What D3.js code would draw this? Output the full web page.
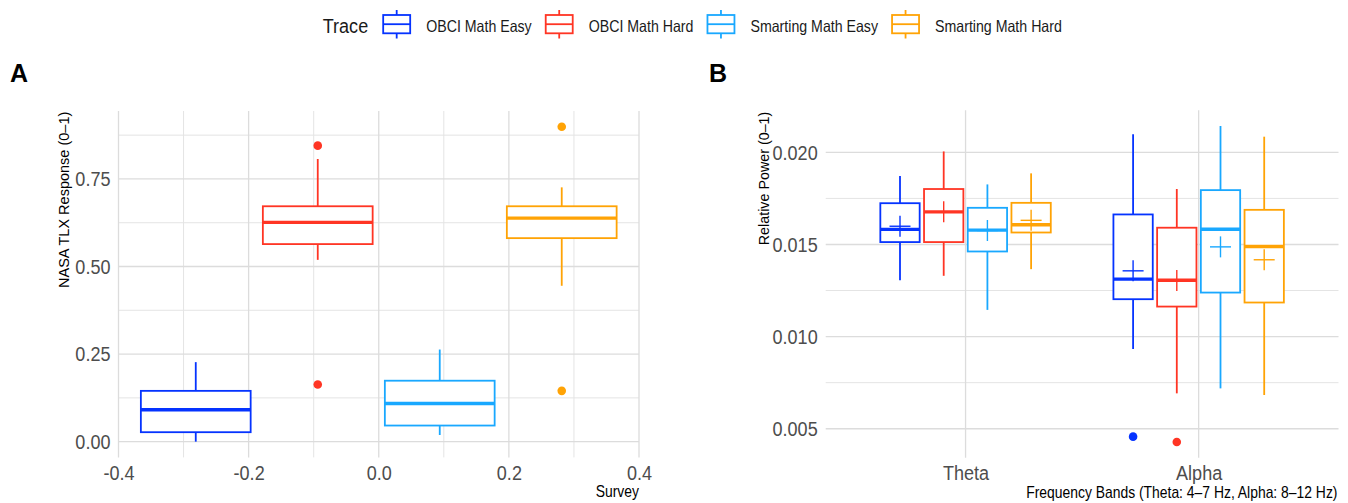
<!DOCTYPE html>
<html>
<head>
<meta charset="utf-8">
<script src="https://cdn.jsdelivr.net/npm/d3@7"></script>
<style>
  html, body { margin: 0; padding: 0; background: #ffffff; }
  svg { display: block; }
</style>
</head>
<body>
<svg id="chart" width="1348" height="503"></svg>
<script>
// ---- Data ----------------------------------------------------------------
const traces = ["OBCI Math Easy", "OBCI Math Hard", "Smarting Math Easy", "Smarting Math Hard"];
const traceColors = ["#0533FF", "#FF3524", "#19A8FF", "#FFA305"];

// Panel A: NASA TLX survey response, box statistics per trace
const surveyLow    = [0.000, 0.519, 0.019, 0.445];
const surveyQ1     = [0.027, 0.564, 0.046, 0.581];
const surveyMedian = [0.091, 0.626, 0.109, 0.638];
const surveyQ3     = [0.145, 0.672, 0.174, 0.672];
const surveyHigh   = [0.227, 0.807, 0.263, 0.726];
const surveyOutliers = [[], [0.845, 0.163], [], [0.899, 0.145]];
const surveyXTicks = [-0.4, -0.2, 0.0, 0.2, 0.4];
const surveyYTicks = [0.00, 0.25, 0.50, 0.75];

// Panel B: relative band power, [Theta, Alpha] per trace
const bands = ["Theta", "Alpha"];
const powerLow    = [[0.01306, 0.00933], [0.01330, 0.00692], [0.01145, 0.00719], [0.01366, 0.00683]];
const powerQ1     = [[0.01513, 0.01203], [0.01513, 0.01163], [0.01462, 0.01239], [0.01565, 0.01185]];
const powerMedian = [[0.01582, 0.01312], [0.01677, 0.01306], [0.01578, 0.01583], [0.01607, 0.01489]];
const powerQ3     = [[0.01724, 0.01663], [0.01801, 0.01591], [0.01699, 0.01795], [0.01726, 0.01688]];
const powerHigh   = [[0.01871, 0.02098], [0.02005, 0.01801], [0.01826, 0.02143], [0.01886, 0.02085]];
const powerMean   = [[0.01599, 0.01357], [0.01678, 0.01304], [0.01576, 0.01487], [0.01631, 0.01417]];
const powerOutliers = [[[], [0.00457]], [[], [0.00428]], [[], []], [[], []]];
const powerYTicks = [0.005, 0.010, 0.015, 0.020];

// ---- Shared styling --------------------------------------------------------
const FONT = "'Liberation Sans', Arial, Helvetica, sans-serif";
const SX = 0.88;            // horizontal glyph squeeze used for all upright text
const TICK_SX = 0.86;
const LEGEND_SX = 0.87;
const TICK_COLOR = "#4d4d4d";
const GRID_MAJOR = "#dcdcdc";
const GRID_MINOR = "#e4e4e4";
const LINE_W = 1.8;

const svg = d3.select("#chart");
svg.append("rect").attr("width", 1348).attr("height", 503).attr("fill", "#ffffff");

function addText(parent, x, y, str, o = {}) {
  return parent.append("text")
    .attr("transform", `translate(${x},${y}) scale(${o.sx ?? SX},1)`)
    .attr("text-anchor", o.anchor || "start")
    .attr("font-family", FONT)
    .attr("font-size", o.size || 16)
    .attr("font-weight", o.weight || "normal")
    .attr("fill", o.fill || "#000000")
    .text(str);
}

function expand(lo, hi, f = 0.05) {
  const pad = (hi - lo) * f;
  return [lo - pad, hi + pad];
}

function styleAxis(g, size) {
  g.select(".domain").remove();
  g.selectAll(".tick line").remove();
  g.selectAll(".tick text")
    .attr("font-family", FONT)
    .attr("font-size", size)
    .attr("fill", TICK_COLOR)
    .attr("transform", `scale(${TICK_SX},1)`);
}

// Draws one box-and-whisker glyph centred at cx with the given half width
function drawBox(g, cx, half, y, st, color) {
  g.append("line").attr("x1", cx).attr("x2", cx)
    .attr("y1", y(st.q3)).attr("y2", y(st.high))
    .attr("stroke", color).attr("stroke-width", LINE_W);
  g.append("line").attr("x1", cx).attr("x2", cx)
    .attr("y1", y(st.q1)).attr("y2", y(st.low))
    .attr("stroke", color).attr("stroke-width", LINE_W);
  g.append("rect")
    .attr("x", cx - half).attr("width", 2 * half)
    .attr("y", y(st.q3)).attr("height", y(st.q1) - y(st.q3))
    .attr("fill", "#ffffff").attr("stroke", color).attr("stroke-width", LINE_W);
  g.append("line").attr("x1", cx - half).attr("x2", cx + half)
    .attr("y1", y(st.median)).attr("y2", y(st.median))
    .attr("stroke", color).attr("stroke-width", 3.4);
  st.outliers.forEach(v => {
    g.append("circle").attr("cx", cx).attr("cy", y(v)).attr("r", 4.3).attr("fill", color);
  });
}

// ---- Panel A --------------------------------------------------------------
const A = { left: 118.5, right: 639, top: 111, bottom: 457.4 };
const gA = svg.append("g");

const allSurvey = surveyLow.concat(surveyHigh, surveyOutliers.flat());
const yA = d3.scaleLinear()
  .domain(expand(d3.min(allSurvey), d3.max(allSurvey)))
  .range([A.bottom, A.top]);
const xA = d3.scaleLinear().domain([-0.4, 0.4]).range([A.left, A.right]);
const dodgeA = d3.scaleBand().domain(traces).range([-0.375, 0.375])
  .paddingInner(0.1).paddingOuter(0.05);

// grid
const yMinorA = surveyYTicks.map(t => t + 0.125);
const xMinorA = surveyXTicks.slice(0, -1).map(t => t + 0.1);
gA.selectAll(".gyminor").data(yMinorA).join("line")
  .attr("x1", A.left).attr("x2", A.right).attr("y1", d => yA(d)).attr("y2", d => yA(d))
  .attr("stroke", GRID_MINOR).attr("stroke-width", 1);
gA.selectAll(".gxminor").data(xMinorA).join("line")
  .attr("y1", A.top).attr("y2", A.bottom).attr("x1", d => xA(d)).attr("x2", d => xA(d))
  .attr("stroke", GRID_MINOR).attr("stroke-width", 1);
gA.selectAll(".gymajor").data(surveyYTicks).join("line")
  .attr("x1", A.left).attr("x2", A.right).attr("y1", d => yA(d)).attr("y2", d => yA(d))
  .attr("stroke", GRID_MAJOR).attr("stroke-width", 1.3);
gA.selectAll(".gxmajor").data(surveyXTicks).join("line")
  .attr("y1", A.top).attr("y2", A.bottom).attr("x1", d => xA(d)).attr("x2", d => xA(d))
  .attr("stroke", GRID_MAJOR).attr("stroke-width", 1.3);

// axes
const axYA = gA.append("g").attr("transform", `translate(${A.left},0)`)
  .call(d3.axisLeft(yA).tickValues(surveyYTicks).tickFormat(d3.format(".2f")).tickSize(0).tickPadding(9.3));
styleAxis(axYA, 21);

const axXA = gA.append("g").attr("transform", `translate(0,${A.bottom})`)
  .call(d3.axisBottom(xA).tickValues(surveyXTicks)
    .tickFormat(d => d3.format(".1f")(d).replace("\u2212", "-")).tickSize(0).tickPadding(8));
styleAxis(axXA, 21);

// boxes
traces.forEach((t, i) => {
  const cx = xA(dodgeA(t) + dodgeA.bandwidth() / 2);
  const half = (xA(dodgeA.bandwidth()) - xA(0)) / 2;
  drawBox(gA, cx, half, yA, {
    low: surveyLow[i], q1: surveyQ1[i], median: surveyMedian[i],
    q3: surveyQ3[i], high: surveyHigh[i], outliers: surveyOutliers[i]
  }, traceColors[i]);
});

// titles
addText(svg, 10, 82, "A", { size: 25, weight: "bold", sx: 1 });
addText(svg, A.right, 497.3, "Survey", { size: 15.8, anchor: "end" });
svg.append("text")
  .attr("transform", `translate(68.5,${A.top + 0.7}) rotate(-90)`)
  .attr("text-anchor", "end")
  .attr("font-family", FONT).attr("font-size", 14.5).attr("fill", "#000")
  .text("NASA TLX Response (0\u20131)");

// ---- Panel B --------------------------------------------------------------
const B = { left: 825.7, right: 1338.5, top: 110.2, bottom: 457.8 };
const gB = svg.append("g");

const allPower = powerLow.flat().concat(powerHigh.flat(), powerOutliers.flat(2));
const yB = d3.scaleLinear()
  .domain(expand(d3.min(allPower), d3.max(allPower)))
  .range([B.bottom, B.top]);
const xB = d3.scalePoint().domain(bands).range([B.left, B.right]).padding(0.6);
const stepB = xB.step();
const dodgeB = d3.scaleBand().domain(traces).range([-0.375 * stepB, 0.375 * stepB])
  .paddingInner(0.1).paddingOuter(0.05);

// grid
const yMinorB = powerYTicks.slice(0, -1).map(t => t + 0.0025);
gB.selectAll(".gyminor").data(yMinorB).join("line")
  .attr("x1", B.left).attr("x2", B.right).attr("y1", d => yB(d)).attr("y2", d => yB(d))
  .attr("stroke", GRID_MINOR).attr("stroke-width", 1);
gB.selectAll(".gymajor").data(powerYTicks).join("line")
  .attr("x1", B.left).attr("x2", B.right).attr("y1", d => yB(d)).attr("y2", d => yB(d))
  .attr("stroke", GRID_MAJOR).attr("stroke-width", 1.3);
gB.selectAll(".gxmajor").data(bands).join("line")
  .attr("y1", B.top).attr("y2", B.bottom).attr("x1", d => xB(d)).attr("x2", d => xB(d))
  .attr("stroke", GRID_MAJOR).attr("stroke-width", 1.3);

// axes
const axYB = gB.append("g").attr("transform", `translate(${B.left},0)`)
  .call(d3.axisLeft(yB).tickValues(powerYTicks).tickFormat(d3.format(".3f")).tickSize(0).tickPadding(9.3));
styleAxis(axYB, 21);

const axXB = gB.append("g").attr("transform", `translate(0,${B.bottom})`)
  .call(d3.axisBottom(xB).tickSize(0).tickPadding(7.6));
styleAxis(axXB, 21);

// boxes and mean markers
bands.forEach((band, b) => {
  traces.forEach((t, i) => {
    const cx = xB(band) + dodgeB(t) + dodgeB.bandwidth() / 2;
    const half = dodgeB.bandwidth() / 2;
    drawBox(gB, cx, half, yB, {
      low: powerLow[i][b], q1: powerQ1[i][b], median: powerMedian[i][b],
      q3: powerQ3[i][b], high: powerHigh[i][b], outliers: powerOutliers[i][b]
    }, traceColors[i]);
    const my = yB(powerMean[i][b]);
    const arm = 10.5;
    gB.append("line").attr("x1", cx - arm).attr("x2", cx + arm).attr("y1", my).attr("y2", my)
      .attr("stroke", traceColors[i]).attr("stroke-width", 1.4);
    gB.append("line").attr("x1", cx).attr("x2", cx).attr("y1", my - arm).attr("y2", my + arm)
      .attr("stroke", traceColors[i]).attr("stroke-width", 1.4);
  });
});

// titles
addText(svg, 709, 82, "B", { size: 25, weight: "bold", sx: 1 });
addText(svg, 1337.5, 498.3, "Frequency Bands (Theta: 4\u20137 Hz, Alpha: 8\u201312 Hz)", { size: 15.8, anchor: "end" });
svg.append("text")
  .attr("transform", `translate(768.5,${B.top + 1.5}) rotate(-90)`)
  .attr("text-anchor", "end")
  .attr("font-family", FONT).attr("font-size", 14.3).attr("fill", "#000")
  .text("Relative Power (0\u20131)");

// ---- Legend ---------------------------------------------------------------
const leg = svg.append("g");
let lx = 322.7;
const title = addText(leg, lx, 32.7, "Trace", { size: 21, fill: "#1a1a1a", sx: 0.86 });
lx += title.node().getComputedTextLength() * 0.86 + 15;
traces.forEach((t, i) => {
  const c = traceColors[i];
  const gx = lx, gw = 27, cx = gx + gw / 2;
  leg.append("line").attr("x1", cx).attr("x2", cx).attr("y1", 10).attr("y2", 38.5)
    .attr("stroke", c).attr("stroke-width", LINE_W);
  leg.append("rect").attr("x", gx).attr("y", 15).attr("width", gw).attr("height", 18.3)
    .attr("fill", "#ffffff").attr("stroke", c).attr("stroke-width", LINE_W);
  leg.append("line").attr("x1", gx).attr("x2", gx + gw).attr("y1", 24.2).attr("y2", 24.2)
    .attr("stroke", c).attr("stroke-width", LINE_W);
  const label = addText(leg, gx + gw + 16, 31.7, t, { size: 16.3, fill: "#1a1a1a", sx: LEGEND_SX });
  lx = gx + gw + 16 + label.node().getComputedTextLength() * LEGEND_SX + 14;
});
</script>
</body>
</html>
